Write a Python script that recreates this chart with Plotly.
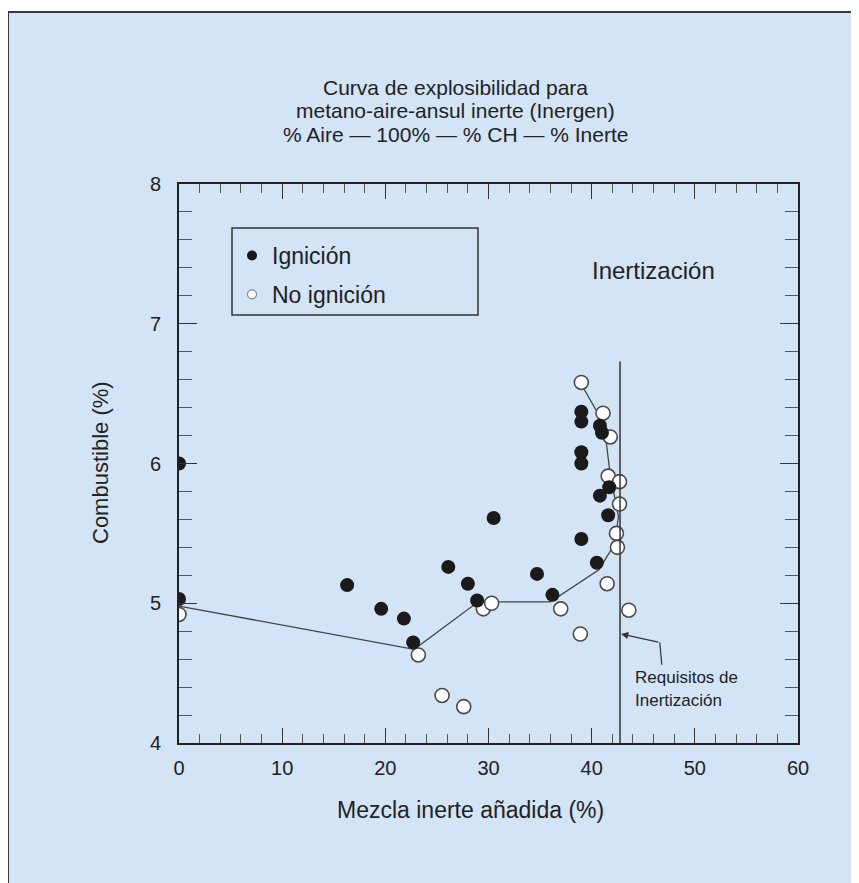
import plotly.graph_objects as go

# ---- data ----
ign_x = [0, 0, 16.3, 19.6, 21.8, 22.7, 26.1, 28.0, 28.9, 30.5, 34.7, 36.2, 39.0, 40.5,
         39.0, 39.0, 39.0, 39.0, 40.8, 41.0, 40.8, 41.7, 41.6]
ign_y = [6.0, 5.03, 5.13, 4.96, 4.89, 4.72, 5.26, 5.14, 5.02, 5.61, 5.21, 5.06, 5.46, 5.29,
         6.37, 6.30, 6.08, 6.0, 6.27, 6.22, 5.77, 5.83, 5.63]

noign_x = [0, 23.2, 25.5, 27.6, 29.5, 30.3, 37.0, 38.9, 39.0, 41.1, 41.8, 41.6, 42.7, 42.7,
           42.4, 42.5, 41.5, 43.6]
noign_y = [4.92, 4.63, 4.34, 4.26, 4.96, 5.0, 4.96, 4.78, 6.58, 6.36, 6.19, 5.91, 5.87, 5.71,
           5.50, 5.40, 5.14, 4.95]

curve_x = [0, 22.8, 29.0, 36.0, 40.7, 42.2, 42.6, 41.8, 41.3, 40.9, 39.2]
curve_y = [4.98, 4.67, 5.01, 5.01, 5.24, 5.42, 5.62, 5.92, 6.22, 6.32, 6.54]

inert_req_x = 42.75
inert_req_top = 6.73

x_ticks = [0, 10, 20, 30, 40, 50, 60]
y_ticks = [4, 5, 6, 7, 8]

title_lines = ["Curva de explosibilidad para",
               "metano-aire-ansul inerte (Inergen)",
               "% Aire \u2014 100% \u2014 % CH \u2014 % Inerte"]

FONT = "Liberation Sans, Arial, Helvetica, sans-serif"
TXT = "#222222"
BG = "#d3e4f6"

# page body has an 8px margin: work in reference-pixel coordinates and shift
OFF = 8
W, H = 851, 875
ML, MR, MT, MB = 171, 61, 176, 140
PW, PH = W - ML - MR, H - MT - MB


def fx(px):
    return (px - OFF - ML) / PW


def fy(py):
    return 1 - (py - OFF - MT) / PH


fig = go.Figure()

fig.add_trace(go.Scatter(x=curve_x, y=curve_y, mode="lines",
                         line=dict(color="#444444", width=1.3),
                         showlegend=False, hoverinfo="skip"))
fig.add_trace(go.Scatter(x=noign_x, y=noign_y, mode="markers", name="No ignición",
                         marker=dict(symbol="circle", size=14, color="white",
                                     line=dict(color="#4a4a4a", width=1.6)),
                         showlegend=False))
fig.add_trace(go.Scatter(x=ign_x, y=ign_y, mode="markers", name="Ignición",
                         marker=dict(symbol="circle", size=14, color="#1a1a1a",
                                     line=dict(color="#1a1a1a", width=0)),
                         showlegend=False))
# legend-only entries with smaller symbols
fig.add_trace(go.Scatter(x=[None], y=[None], mode="markers", name="Ignición", legendgroup="a",
                         marker=dict(size=10, color="#1a1a1a")))
fig.add_trace(go.Scatter(x=[None], y=[None], mode="markers", name="No ignición", legendgroup="b",
                         marker=dict(size=9, color="white",
                                     line=dict(color="#888888", width=1.2))))

shapes = [
    # outer frame panel
    dict(type="rect", xref="paper", yref="paper", x0=fx(8), x1=fx(880), y0=fy(12), y1=fy(900),
         fillcolor=BG, line=dict(color="#3a3a3a", width=2), layer="below"),
    # legend box
    dict(type="rect", xref="paper", yref="paper", x0=fx(232), x1=fx(478), y0=fy(228), y1=fy(315),
         fillcolor="rgba(0,0,0,0)", line=dict(color="#333333", width=1.5)),
    # inertization requirement line
    dict(type="line", xref="x", yref="y", x0=inert_req_x, x1=inert_req_x, y0=4, y1=inert_req_top,
         line=dict(color="#333333", width=1.5)),
    dict(type="line", xref="x", yref="y", x0=46.6, x1=46.8, y0=4.72, y1=4.56,
         line=dict(color="#333333", width=1.2)),
]

annotations = [
    dict(x=inert_req_x + 0.1, y=4.78, ax=46.6, ay=4.72, xref="x", yref="y", axref="x", ayref="y",
         showarrow=True, arrowhead=2, arrowsize=1.2, arrowwidth=1.2, arrowcolor="#333333", text=""),
    dict(x=fx(633), y=fy(677), xref="paper", yref="paper", xanchor="left", yanchor="middle",
         showarrow=False, text="Requisitos de", font=dict(family=FONT, size=17, color=TXT)),
    dict(x=fx(633), y=fy(700), xref="paper", yref="paper", xanchor="left", yanchor="middle",
         showarrow=False, text="Inertización", font=dict(family=FONT, size=17, color=TXT)),
    dict(x=fx(653), y=fy(270), xref="paper", yref="paper", xanchor="center", yanchor="middle",
         showarrow=False, text="Inertización", font=dict(family=FONT, size=24, color=TXT)),
    dict(x=fx(470), y=fy(810), xref="paper", yref="paper", xanchor="center", yanchor="middle",
         showarrow=False, text="Mezcla inerte añadida (%)",
         font=dict(family=FONT, size=23, color=TXT)),
    dict(x=fx(100), y=fy(463), xref="paper", yref="paper", xanchor="center", yanchor="middle",
         showarrow=False, text="Combustible (%)", textangle=-90,
         font=dict(family=FONT, size=22, color=TXT)),
]
for i, (line, py) in enumerate(zip(title_lines, [88, 111, 134])):
    annotations.append(dict(x=fx(455), y=fy(py), xref="paper", yref="paper",
                            xanchor="center", yanchor="middle", showarrow=False, text=line,
                            font=dict(family=FONT, size=21, color=TXT)))

fig.update_layout(
    width=W, height=H,
    margin=dict(l=ML, r=MR, t=MT, b=MB),
    paper_bgcolor="white", plot_bgcolor="white",
    font=dict(family=FONT, color=TXT),
    shapes=shapes, annotations=annotations,
    legend=dict(x=fx(232), y=fy(234), xanchor="left", yanchor="top",
                bgcolor="rgba(0,0,0,0)", borderwidth=0,
                font=dict(family=FONT, size=23, color=TXT), tracegroupgap=6,
                itemwidth=30),
)

fig.update_xaxes(range=[0, 60], tickvals=x_ticks, ticktext=[str(v) for v in x_ticks],
                 showgrid=False, zeroline=False, showline=True, linecolor="#222222", linewidth=1.6,
                 mirror="allticks", ticks="inside", ticklen=15, tickwidth=1.3, tickcolor="#333333",
                 minor=dict(dtick=2, ticks="inside", ticklen=9, tickwidth=1.1, tickcolor="#555555",
                            showgrid=False),
                 ticklabelstandoff=6,
                 tickfont=dict(family=FONT, size=20, color=TXT))
fig.update_yaxes(range=[4, 8], tickvals=y_ticks, ticktext=[str(v) for v in y_ticks],
                 showgrid=False, zeroline=False, showline=True, linecolor="#222222", linewidth=1.6,
                 mirror="allticks", ticks="inside", ticklen=18, tickwidth=1.3, tickcolor="#333333",
                 minor=dict(dtick=0.2, ticks="inside", ticklen=13, tickwidth=1.1, tickcolor="#555555",
                            showgrid=False),
                 ticklabelstandoff=12,
                 tickfont=dict(family=FONT, size=20, color=TXT))

fig.write_html("out.html")
